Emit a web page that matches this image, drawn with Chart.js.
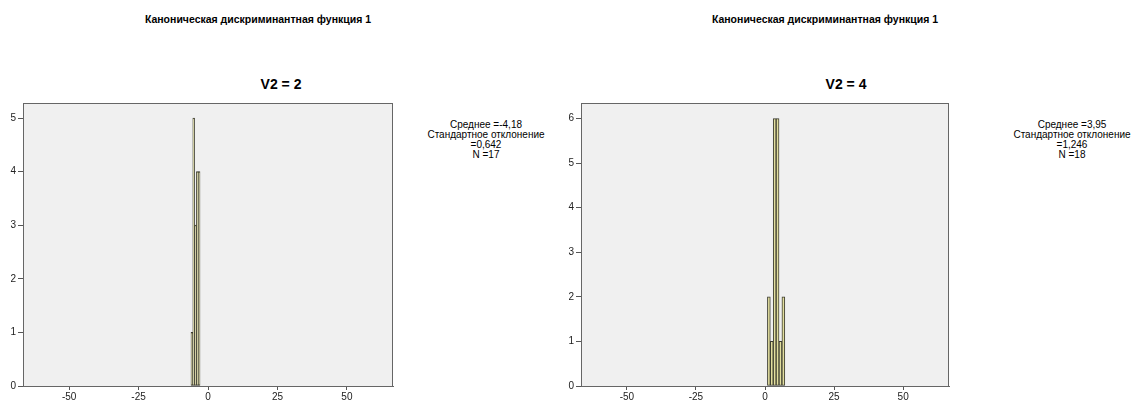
<!DOCTYPE html>
<html>
<head>
<meta charset="utf-8">
<script src="https://cdn.jsdelivr.net/npm/chart.js@4.4.0/dist/chart.umd.min.js"></script>
<style>
  body { margin: 0; background: #fff; width: 1131px; height: 403px; overflow: hidden; position: relative; font-family: Arial, "Liberation Sans", sans-serif; }
  canvas { position: absolute; top: 0; }
  .title { position: absolute; font-weight: bold; font-size: 10.5px; color: #000; white-space: nowrap; transform: translateX(-50%); }
  .sub { position: absolute; font-weight: bold; font-size: 14px; color: #000; white-space: nowrap; transform: translateX(-50%); }
  .stats { position: absolute; font-size: 10px; line-height: 10px; color: #000; text-align: center; white-space: nowrap; transform: translateX(-50%); }
</style>
</head>
<body>
<div class="title" style="left:258px; top:13px;">Каноническая дискриминантная функция 1</div>
<div class="title" style="left:825px; top:13px;">Каноническая дискриминантная функция 1</div>
<div class="sub" style="left:281px; top:76px;">V2 = 2</div>
<div class="sub" style="left:846px; top:76px;">V2 = 4</div>
<div class="stats" id="statsLeft" style="left:486px; top:120px;"></div>
<div class="stats" id="statsRight" style="left:1072px; top:120px;"></div>
<canvas id="chartLeft" width="560" height="403" style="left:0;width:560px;height:403px;"></canvas>
<canvas id="chartRight" width="586" height="403" style="left:545px;width:586px;height:403px;"></canvas>
<script>
// histogram V2 = 2
const leftBinCenters = [-5.8, -5.15, -4.5, -3.85, -3.2];
const leftCounts = [1, 5, 3, 4, 4];
const leftStats = ['Среднее =-4,18', 'Стандартное отклонение', '=0,642', 'N =17'];

// histogram V2 = 4
const rightBinCenters = [1.4, 2.45, 3.5, 4.55, 5.6, 6.65];
const rightCounts = [2, 1, 6, 6, 1, 2];
const rightStats = ['Среднее =3,95', 'Стандартное отклонение', '=1,246', 'N =18'];

const xTicks = [-50, -25, 0, 25, 50];
const leftYTicks = [0, 1, 2, 3, 4, 5];
const rightYTicks = [0, 1, 2, 3, 4, 5, 6];

document.getElementById('statsLeft').innerHTML = leftStats.join('<br>');
document.getElementById('statsRight').innerHTML = rightStats.join('<br>');

// grey plot background and frame
const framePlugin = {
    id: 'frame',
    beforeDraw(chart) {
        const a = chart.chartArea;
        const c = chart.ctx;
        c.save();
        c.fillStyle = '#f0f0f0';
        c.fillRect(a.left, a.top, a.right - a.left, a.bottom - a.top);
        c.restore();
    },
    afterDraw(chart) {
        const a = chart.chartArea;
        const c = chart.ctx;
        c.save();
        c.strokeStyle = '#666';
        c.lineWidth = 1;
        c.strokeRect(a.left + 0.5, a.top + 0.5, a.right - a.left - 1, a.bottom - a.top);
        c.restore();
    }
};

function makeChart(id, centers, counts, yTicks, yMax, padLeft, padRight) {
    const ctx = document.getElementById(id).getContext('2d');
    return new Chart(ctx, {
        type: 'bar',
        data: {
            datasets: [{
                data: centers.map((x, i) => ({ x: x, y: counts[i] })),
                backgroundColor: 'rgb(226, 222, 158)',
                borderColor: '#3c3c30',
                borderWidth: 1,
                borderSkipped: false,
                barPercentage: 1,
                categoryPercentage: 1
            }]
        },
        options: {
            responsive: false,
            animation: false,
            layout: { padding: { top: 103, left: padLeft, right: padRight, bottom: 0 } },
            plugins: { legend: { display: false }, tooltip: { enabled: false } },
            scales: {
                x: {
                    type: 'linear',
                    offset: false,
                    min: -66.6,
                    max: 66.6,
                    afterBuildTicks: s => { s.ticks = xTicks.map(v => ({ value: v })); },
                    afterFit: s => { s.height = 17; },
                    grid: { offset: false, drawOnChartArea: false, drawTicks: true, tickLength: 4, color: '#555' },
                    border: { display: true, color: '#666', width: 1 },
                    ticks: { padding: 1, color: '#222', font: { family: 'Arial', size: 10 }, maxRotation: 0 }
                },
                y: {
                    min: 0,
                    max: yMax,
                    afterBuildTicks: s => { s.ticks = yTicks.map(v => ({ value: v })); },
                    afterFit: s => { s.width = 23; },
                    grid: { drawOnChartArea: false, drawTicks: true, tickLength: 5, color: '#555' },
                    border: { display: true, color: '#666', width: 1 },
                    ticks: { padding: 2, color: '#222', font: { family: 'Arial', size: 10 } }
                }
            }
        },
        plugins: [framePlugin]
    });
}

makeChart('chartLeft', leftBinCenters, leftCounts, leftYTicks, 5.28, 0, 167);
makeChart('chartRight', rightBinCenters, rightCounts, rightYTicks, 6.35, 13, 182);
</script>
</body>
</html>
